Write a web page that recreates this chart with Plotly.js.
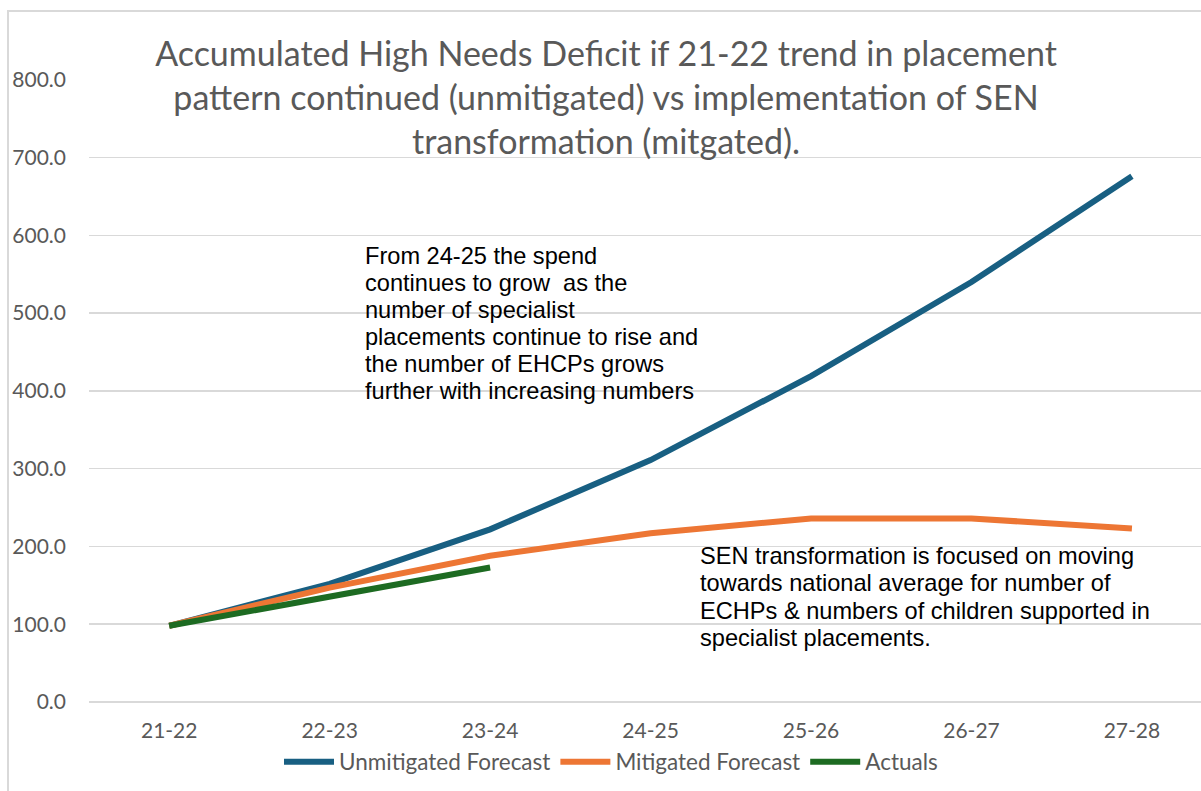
<!DOCTYPE html>
<html>
<head>
<meta charset="utf-8">
<script src="https://cdn.plot.ly/plotly-3.0.1.min.js"></script>
<style>html,body{margin:0;padding:0;background:#fff;}#chart{width:1201px;height:791px;}</style>
</head>
<body>
<div id="chart"></div>
<script>
const categories = ["21-22", "22-23", "23-24", "24-25", "25-26", "26-27", "27-28"];
const unmitigated = [98, 152, 222, 311, 419, 540, 676];
const mitigated = [98, 147, 188, 217, 236, 236, 223];
const actualsCats = ["21-22", "22-23", "23-24"];
const actuals = [98, 135, 173];
const yTicks = [0, 100, 200, 300, 400, 500, 600, 700, 800];
const yTickText = yTicks.map(v => v.toFixed(1));
const note1Lines = ["From 24-25 the spend", "continues to grow  as the", "number of specialist",
  "placements continue to rise and", "the number of EHCPs grows", "further with increasing numbers"];
const note2Lines = ["SEN transformation is focused on moving", "towards national average for number of",
  "ECHPs &amp; numbers of children supported in", "specialist placements."];

const textGray = "#595959";
const gridGray = "#d9d9d9";
const calib = "Lato, 'Open Sans', sans-serif";
const arial = "'Liberation Sans', Arial, sans-serif";

const traces = [
  {x: categories, y: unmitigated, name: "Unmitigated Forecast", type: "scatter", mode: "lines",
   line: {color: "#185f82", width: 6}},
  {x: categories, y: mitigated, name: "Mitigated Forecast", type: "scatter", mode: "lines",
   line: {color: "#ed7634", width: 6}},
  {x: actualsCats, y: actuals, name: "Actuals", type: "scatter", mode: "lines",
   line: {color: "#1d6b22", width: 6}}
];

const W = 1201, H = 791, L = 89, R = 0, T = 79, B = 89;
const pw = W - L - R, ph = H - T - B;
const px2paperX = p => (p - L) / pw;
const px2paperY = p => (H - B - p) / ph;

const annotations = [];
note1Lines.forEach((t, i) => annotations.push({
  xref: "paper", yref: "paper", x: px2paperX(363), y: px2paperY(256 + i * 27),
  xanchor: "left", yanchor: "middle", align: "left", showarrow: false,
  font: {family: arial, size: 23.6, color: "#000000"}, text: t}));
note2Lines.forEach((t, i) => annotations.push({
  xref: "paper", yref: "paper", x: px2paperX(698), y: px2paperY(556 + i * 27.3),
  xanchor: "left", yanchor: "middle", align: "left", showarrow: false,
  font: {family: arial, size: 23.6, color: "#000000"}, text: t}));

const layout = {
  width: W, height: H,
  margin: {l: L, r: R, t: T, b: B},
  paper_bgcolor: "#ffffff", plot_bgcolor: "#ffffff",
  showlegend: true,
  title: {
    text: "Accumulated High Needs Deficit if 21-22 trend in placement<br>pattern continued (unmitigated) vs implementation of SEN<br>transformation (mitgated).",
    font: {family: calib, size: 34, color: textGray},
    x: 606 / W, xanchor: "center", xref: "container",
    y: 1 - 66 / H, yanchor: "middle", yref: "container"
  },
  xaxis: {
    type: "category", categoryarray: categories, categoryorder: "array",
    range: [-0.5, pw / 160.45 - 0.5],
    showgrid: false, zeroline: false, showline: false, ticks: "",
    tickfont: {family: calib, size: 21, color: textGray},
    ticklabelstandoff: 14
  },
  yaxis: {
    range: [0, 801],
    tickvals: yTicks, ticktext: yTickText,
    showgrid: true, gridcolor: gridGray, gridwidth: 1.5,
    zeroline: true, zerolinecolor: gridGray, zerolinewidth: 1.5,
    showline: false, ticks: "",
    tickfont: {family: calib, size: 21, color: textGray},
    ticklabelstandoff: 22
  },
  legend: {
    orientation: "h", x: px2paperX(611), xanchor: "center",
    y: px2paperY(762), yanchor: "middle",
    font: {family: calib, size: 22.5, color: textGray},
    itemwidth: 50,
    bgcolor: "rgba(0,0,0,0)"
  },
  annotations: annotations,
  shapes: [
    {type: "rect", xref: "paper", yref: "paper",
     x0: px2paperX(8), x1: px2paperX(1260), y0: px2paperY(850), y1: px2paperY(11),
     line: {color: gridGray, width: 2}, fillcolor: "rgba(0,0,0,0)", layer: "below"}
  ]
};

Plotly.newPlot("chart", traces, layout, {displayModeBar: false, staticPlot: true});
</script>
</body>
</html>
